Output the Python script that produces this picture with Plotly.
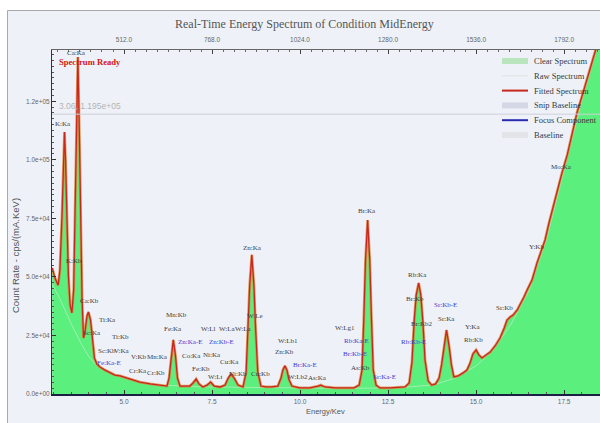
import plotly.graph_objects as go

# ---------------- data ----------------
energy_kev = [2.96, 3.04, 3.13, 3.18, 3.24, 3.28, 3.31, 3.34, 3.38, 3.42,
              3.47, 3.52, 3.57, 3.61, 3.65, 3.69, 3.73, 3.77, 3.81, 3.85,
              3.89, 3.95, 3.99, 4.05, 4.11, 4.16, 4.23, 4.32, 4.46, 4.60,
              4.74, 4.89, 5.09, 5.26, 5.45, 5.74, 6.02, 6.22, 6.28, 6.34,
              6.40, 6.46, 6.52, 6.59, 6.73, 6.87, 6.96, 7.05, 7.13, 7.24,
              7.36, 7.46, 7.56, 7.73, 7.87, 7.96, 8.04, 8.13, 8.24, 8.38,
              8.47, 8.52, 8.57, 8.63, 8.69, 8.74, 8.80, 8.89, 9.03, 9.20,
              9.37, 9.46, 9.51, 9.57, 9.63, 9.68, 9.77, 9.99, 10.28, 10.51,
              10.59, 10.71, 11.00, 11.28, 11.53, 11.68, 11.76, 11.81, 11.86, 11.92,
              11.98, 12.03, 12.08, 12.16, 12.27, 12.56, 12.84, 12.98, 13.10, 13.18,
              13.24, 13.30, 13.37, 13.43, 13.49, 13.55, 13.64, 13.74, 13.85, 13.95,
              14.02, 14.09, 14.16, 14.23, 14.30, 14.37, 14.49, 14.63, 14.74, 14.83,
              14.91, 15.00, 15.08, 15.17, 15.28, 15.40, 15.54, 15.68, 15.80, 15.88,
              15.97, 16.05, 16.17, 16.25, 16.36, 16.45, 16.59, 16.73, 16.85, 16.96,
              17.07, 17.19, 17.30, 17.44, 17.59, 17.73, 17.87, 18.01, 18.15, 18.29,
              18.44, 18.52]
count_rate = [53800, 49500, 46500, 52900, 76400, 99900, 111900, 99900, 76400, 50800,
              38000, 34600, 44400, 74300, 112700, 143900, 112700, 74300, 40100, 23900,
              26500, 33300, 35000, 31600, 23100, 15400, 12800, 11500, 10200, 9000,
              8100, 7700, 6800, 6000, 5100, 4300, 3800, 3400, 6800, 16700,
              23100, 16700, 6800, 3400, 3400, 3400, 4700, 6400, 4300, 3000,
              3800, 5100, 3400, 3000, 3800, 6800, 8500, 6800, 3800, 3000,
              9400, 27300, 46500, 59400, 46500, 27300, 9400, 3400, 3000, 3000,
              3400, 6800, 10200, 12000, 10200, 6400, 3400, 2600, 2600, 3400,
              3800, 3000, 2600, 2600, 2600, 3800, 10200, 31600, 57200, 74300,
              57200, 31600, 10200, 3800, 2600, 2600, 3000, 3000, 4700, 13700,
              30700, 42300, 47400, 42300, 30700, 14500, 5600, 3800, 4300, 6800,
              12400, 20900, 27300, 20900, 12400, 7300, 7700, 9000, 10200, 13200,
              17100, 18800, 16700, 15400, 16700, 17900, 20500, 23900, 28200, 31600,
              32900, 33700, 35900, 38000, 41400, 44400, 48700, 55900, 60600, 65800,
              73000, 79800, 87100, 94400, 102100, 110600, 120400, 127200, 134100, 141300,
              149000, 153300]

snip_energy = [2.96, 3.2, 3.5, 3.8, 4.0, 4.2, 4.5, 5.0, 5.5, 6.0, 7.0, 8.0, 9.0, 10.0,
               11.0, 12.0, 13.0, 13.8, 14.4, 15.0, 15.5, 16.0, 16.5, 17.0, 17.5, 18.0, 18.52]
snip_counts = [47000, 40000, 30000, 21000, 16000, 12500, 9800, 7200, 5300, 3900, 3100, 2900,
               2800, 2500, 2400, 2500, 2900, 3900, 6800, 12000, 19000, 30000, 44000, 66000,
               96000, 125000, 152000]

# element line labels: text, energy (keV), label height (counts)
peak_labels = ["Ca:Ka", "K:Ka", "K:Kb", "Ca:Kb", "Ti:Ka", "Sc:Ka", "Ti:Kb", "Sc:Kb", "V:Ka",
               "Fe:Ka-E", "V:Kb", "Mn:Ka", "Cr:Ka", "Cr:Kb", "Mn:Kb", "Fe:Ka", "Zn:Ka-E",
               "Co:Ka", "Fe:Kb", "W:Ll", "W:La", "W:La", "Zn:Kb-E", "Ni:Ka", "Cu:Ka", "W:Lt",
               "Ni:Kb", "Cu:Kb", "W:Le", "Zn:Ka", "W:Lb1", "Zn:Kb", "Br:Ka-E", "W:Lb2",
               "As:Ka", "W:Lg1", "Rb:Ka-E", "Br:Kb-E", "As:Kb", "Br:Ka", "Sr:Ka-E", "Rb:Ka",
               "Br:Kb", "Br:Kb2", "Rb:Kb-E", "Sr:Kb-E", "Sr:Ka", "Y:Ka", "Rb:Kb", "Sr:Kb",
               "Y:Kb", "Mo:Ka"]
peak_energy = [3.66, 3.27, 3.58, 4.01, 4.52, 4.09, 4.91, 4.52, 4.94,
               4.57, 5.43, 5.94, 5.40, 5.91, 6.48, 6.39, 6.88,
               6.93, 7.19, 7.39, 7.93, 8.38, 7.78, 7.50, 8.01, 7.61,
               8.24, 8.89, 8.72, 8.64, 9.66, 9.55, 10.14, 9.94,
               10.51, 11.28, 11.59, 11.56, 11.73, 11.90, 12.41, 13.35,
               13.27, 13.47, 13.21, 14.12, 14.15, 14.91, 14.94, 15.82,
               16.73, 17.44]
peak_label_y = [145600, 115300, 56800, 39700, 31600, 26000, 24300, 18400, 18400,
                13200, 15800, 15800, 9800, 9000, 33700, 27800, 22200,
                16200, 10700, 27800, 27800, 27800, 22200, 16700, 13700, 7300,
                8500, 8500, 33300, 62300, 22600, 17900, 12400, 7300,
                6800, 28200, 22600, 17100, 11100, 78100, 7300, 50800,
                40600, 29900, 22200, 38000, 32000, 28600, 23100, 36700,
                62800, 96900]

cursor_energy = 3.06
cursor_count = 119500

x_ticks = [5.0, 7.5, 10.0, 12.5, 15.0, 17.5]
x_tick_text = ["5.0", "7.5", "10.0", "12.5", "15.0", "17.5"]
ch_ticks = [512, 768, 1024, 1280, 1536, 1792]
ch_tick_text = ["512.0", "768.0", "1024.0", "1280.0", "1536.0", "1792.0"]
y_ticks = [0, 25000, 50000, 75000, 100000, 125000]
y_tick_text = ["0.0e+00", "2.5e+04", "5.0e+04", "7.5e+04", "1.0e+05", "1.2e+05"]
channels_per_kev = 102.4

legend_names = ["Clear Spectrum", "Raw Spectrum", "Fitted Spectrum", "Snip Baseline",
                "Focus Component", "Baseline"]

# ---------------- layout helpers ----------------
W, H = 600, 423
ML, MR, MT, MB = 52, 0, 50, 29
x_range = [2.955, 18.52]
y_range = [0, 146900]


def px(xp):
    return (xp - ML) / (W - ML - MR)


def py(yp):
    return (H - MB - yp) / (H - MT - MB)


BG = "#eef2f8"
GREEN = "#5bef7d"
RED = "#c8281c"
SERIF = "Liberation Serif"
SANS = "Liberation Sans"

fig = go.Figure()

fig.add_trace(go.Scatter(x=energy_kev, y=count_rate, mode="lines", fill="tozeroy",
                         fillcolor=GREEN, line=dict(width=0), showlegend=False,
                         hoverinfo="skip", name="Clear Spectrum"))
fig.add_trace(go.Scatter(x=snip_energy, y=snip_counts, mode="lines",
                         line=dict(color="rgba(210,236,216,0.6)", width=1),
                         showlegend=False, hoverinfo="skip", name="Snip Baseline"))
fig.add_trace(go.Scatter(x=energy_kev, y=count_rate, mode="lines",
                         line=dict(color="#e2e2e2", width=1), showlegend=False,
                         name="Raw Spectrum"))
fig.add_trace(go.Scatter(x=energy_kev, y=count_rate, mode="lines",
                         line=dict(color="rgba(222,128,60,0.75)", width=2.8),
                         showlegend=False, hoverinfo="skip"))
fig.add_trace(go.Scatter(x=energy_kev, y=count_rate, mode="lines",
                         line=dict(color=RED, width=1.3), showlegend=False,
                         name="Fitted Spectrum"))
# top channel axis carrier
fig.add_trace(go.Scatter(x=[x_range[0] * channels_per_kev, x_range[1] * channels_per_kev],
                         y=[None, None], xaxis="x2", mode="lines", showlegend=False,
                         hoverinfo="skip"))

annotations = []
shapes = []

# outer frame
shapes.append(dict(type="rect", xref="paper", yref="paper", x0=px(7.5), x1=px(660),
                   y0=py(470), y1=py(10.5), fillcolor=BG, line=dict(color="#a9a9a9", width=1),
                   layer="below"))

# crosshair
shapes.append(dict(type="line", xref="paper", yref="y", x0=0, x1=1, y0=cursor_count,
                   y1=cursor_count, line=dict(color="#cdd1d6", width=1)))
annotations.append(dict(xref="paper", yref="y", x=px(57), y=cursor_count, yshift=1,
                        text=f"{cursor_energy:.2f}, {cursor_count:.3e}",
                        showarrow=False, xanchor="left", yanchor="bottom",
                        font=dict(family=SANS, size=8.5, color="#b4b4b4")))

# element labels
for txt, e, yv in zip(peak_labels, peak_energy, peak_label_y):
    col = "#3b3bd0" if txt.endswith("-E") else "#3c3c3c"
    annotations.append(dict(x=e, y=yv, xref="x", yref="y", text=txt, showarrow=False,
                            xanchor="center", yanchor="middle",
                            font=dict(family=SERIF, size=7, color=col)))

# status text
annotations.append(dict(xref="paper", yref="paper", x=px(57), y=py(62), text="<b>Spectrum Ready</b>",
                        showarrow=False, xanchor="left", yanchor="middle",
                        font=dict(family=SERIF, size=8.6, color="#d41414")))

# title and axis titles
annotations.append(dict(xref="paper", yref="paper", x=px(304), y=py(24),
                        text="Real-Time Energy Spectrum of Condition MidEnergy", showarrow=False,
                        xanchor="center", yanchor="middle",
                        font=dict(family=SERIF, size=12, color="#555555")))
annotations.append(dict(xref="paper", yref="paper", x=px(325), y=py(411), text="Energy/Kev",
                        showarrow=False, xanchor="center", yanchor="middle",
                        font=dict(family=SANS, size=7.5, color="#555555")))
annotations.append(dict(xref="paper", yref="paper", x=px(16), y=py(256),
                        text="Count Rate - cps/(mA.KeV)", showarrow=False, textangle=-90,
                        xanchor="center", yanchor="middle",
                        font=dict(family=SANS, size=9.5, color="#555555")))

# custom legend
leg_styles = [("rect", "#b9e4bd"), ("line1", "#e0e0e0"), ("line2", "#c8281c"),
              ("rect", "#d4d8e6"), ("line2", "#2b2bb0"), ("rect", "#e2e4e8")]
for i, (name, (kind, col)) in enumerate(zip(legend_names, leg_styles)):
    yc = 61 + i * 14.8
    if kind == "rect":
        shapes.append(dict(type="rect", xref="paper", yref="paper", x0=px(502), x1=px(528),
                           y0=py(yc + 3), y1=py(yc - 3), fillcolor=col, line=dict(width=0)))
    else:
        shapes.append(dict(type="line", xref="paper", yref="paper", x0=px(502), x1=px(528),
                           y0=py(yc), y1=py(yc), line=dict(color=col, width=1 if kind == "line1" else 2)))
    annotations.append(dict(xref="paper", yref="paper", x=px(532), y=py(yc), text=name,
                            showarrow=False, xanchor="left", yanchor="middle",
                            font=dict(family=SERIF, size=8.5, color="#3a3a3a")))

tickfont = dict(family=SANS, size=6.5, color="#666666")

fig.update_layout(
    width=W, height=H,
    margin=dict(l=ML, r=MR, t=MT, b=MB, pad=0),
    paper_bgcolor="white",
    plot_bgcolor=BG,
    showlegend=False,
    shapes=shapes,
    annotations=annotations,
    xaxis=dict(range=x_range, tickvals=x_ticks, ticktext=x_tick_text, ticks="inside",
               ticklen=4, tickcolor="#333", showgrid=False, zeroline=False,
               showline=True, linecolor="#1b1f44", linewidth=2, tickfont=tickfont,
               automargin=False,
               minor=dict(dtick=0.5, ticks="inside", ticklen=2, tickcolor="#555")),
    xaxis2=dict(overlaying="x", side="top", range=[x_range[0] * channels_per_kev,
                                                    x_range[1] * channels_per_kev],
                tickvals=ch_ticks, ticktext=ch_tick_text, ticks="inside", ticklen=4,
                tickcolor="#444", showgrid=False, zeroline=False, showline=True,
                linecolor="#666", linewidth=1, tickfont=tickfont, ticklabelstandoff=4,
                automargin=False,
                minor=dict(dtick=32, ticks="inside", ticklen=2, tickcolor="#666")),
    yaxis=dict(range=y_range, tickvals=y_ticks, ticktext=y_tick_text, ticks="inside",
               ticklen=4, tickcolor="#333", showgrid=False, zeroline=False,
               showline=True, linecolor="#333", linewidth=1, tickfont=tickfont,
               automargin=False,
               minor=dict(dtick=2500, ticks="inside", ticklen=2, tickcolor="#555")),
)

fig.write_html("out.html", config={"displayModeBar": False},
               post_script="document.body.style.margin='0px';document.body.style.padding='0px';")
